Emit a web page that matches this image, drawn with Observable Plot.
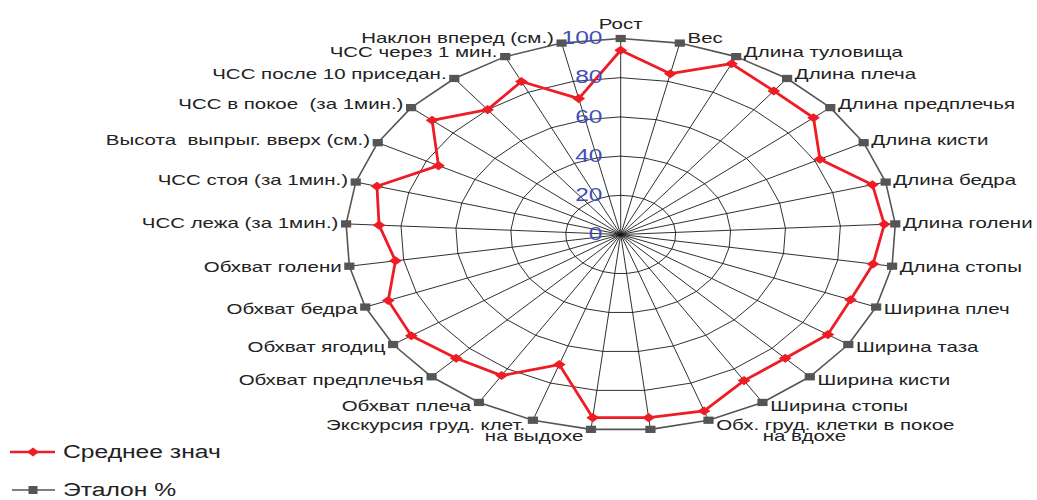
<!DOCTYPE html>
<html><head><meta charset="utf-8">
<script src="https://cdn.jsdelivr.net/npm/d3@7"></script>
<script src="https://cdn.jsdelivr.net/npm/@observablehq/plot@0.6"></script>
<style>
body{margin:0;background:#fff;font-family:"Liberation Sans",Arial,sans-serif;width:1037px;height:500px;overflow:hidden;}
#chart svg path, #chart svg line{vector-effect:non-scaling-stroke;}
#chart svg text{white-space:pre;}
.legend{position:relative;height:55px;}
.row{position:absolute;left:0;height:20px;display:flex;align-items:center;}
.row svg{flex:none;}
.row span{display:inline-block;margin-left:3px;transform:scaleX(1.4);transform-origin:left center;font-size:17.6px;line-height:18px;color:#222;white-space:nowrap;}
</style></head><body>
<div id="chart"></div>
<div class="legend">
  <div class="row" style="top:-3px"><svg width="60" height="20"><line x1="10" x2="55" y1="10" y2="10" stroke="#ee1c25" stroke-width="2.6"/><polygon points="27,10 33,5.5 39,10 33,14.5" fill="#ee1c25"/></svg><span id="lg1"></span></div>
  <div class="row" style="top:35px"><svg width="60" height="20"><line x1="12" x2="55" y1="10" y2="10" stroke="#555" stroke-width="1.5"/><rect x="28.5" y="6" width="9" height="8" fill="#555"/></svg><span id="lg2"></span></div>
</div>
<script>
const categories = ["Рост","Вес","Длина туловища","Длина плеча","Длина предплечья","Длина кисти","Длина бедра","Длина голени","Длина стопы","Ширина плеч","Ширина таза","Ширина кисти","Ширина стопы","Обх. груд. клетки в покое","на вдохе","на выдохе","Экскурсия груд. клет.","Обхват плеча","Обхват предплечья","Обхват ягодиц","Обхват бедра","Обхват голени","ЧСС лежа (за 1мин.)","ЧСС стоя (за 1мин.)","Высота  выпрыг. вверх (см.)","ЧСС в покое  (за 1мин.)","ЧСС после 10 приседан.","ЧСС через 1 мин.","Наклон вперед (см.)"];
const meanValues = [94,84,96,92,92,82,95,96,93,90,91,87,87,95,94,94,70,84,87,92,91,83,88,92,75,90,80,86,71];
const etalonValues = [100,100,100,100,100,100,100,100,100,100,100,100,100,100,100,100,100,100,100,100,100,100,100,100,100,100,100,100,100];
const seriesNames = ["Среднее знач","Эталон %"];
const tickValues = [0,20,40,60,80,100];
const ringLevels = [20,40,60,80];

document.getElementById("lg1").textContent = seriesNames[0];
document.getElementById("lg2").textContent = seriesNames[1];

const W = 1037, H = 445, stretch = 1.403, cx = 620, cy = 234, R = 196;
const W0 = W / stretch;
const n = categories.length;
const ang = i => i * 2 * Math.PI / n;
const px = (i, v) => v * Math.sin(ang(i));
const py = (i, v) => v * Math.cos(ang(i));
const idx = d3.range(n);
const closed = [...idx, 0];

const pts = (vals) => closed.map(i => ({i, x: px(i, vals[i]), y: py(i, vals[i])}));
const ringData = ringLevels.flatMap(r => closed.map(i => ({r, x: px(i, r), y: py(i, r)})));

const anchorOf = i => { const s = Math.sin(ang(i)); return Math.abs(s) < 0.05 ? "middle" : s > 0 ? "start" : "end"; };
const nudge = {"на вдохе": 38};
const labels = idx.map(i => {
  const a = anchorOf(i), s = Math.sin(ang(i)), c = Math.cos(ang(i));
  let x = px(i, 100), y = py(i, 100);
  if (a === "middle") y += 8.2;
  else { x += (s > 0 ? 2.8 : -2.8) + (nudge[categories[i]] || 0); y += 2.6 * c; }
  if (Math.abs(c) > 0.99) y -= 0.8;
  return {text: categories[i], x, y, a};
});

const cxu = cx / stretch;
const xDomain = [-cxu / R * 100, (W0 - cxu) / R * 100];
const yDomain = [-(H - cy) / R * 100, cy / R * 100];

const textStyle = {fill: "#222", fontSize: 14.6};
const chart = Plot.plot({
  width: W0, height: H, margin: 0,
  x: {domain: xDomain, axis: null},
  y: {domain: yDomain, axis: null},
  style: {fontFamily: "'Liberation Sans', Arial, sans-serif", background: "white"},
  marks: [
    Plot.link(idx, {x1: () => 0, y1: () => 0, x2: i => px(i, 100), y2: i => py(i, 100), stroke: "#1a1a1a", strokeWidth: 0.9}),
    Plot.line(ringData, {x: "x", y: "y", z: "r", stroke: "#1a1a1a", strokeWidth: 0.9}),
    Plot.line(pts(etalonValues), {x: "x", y: "y", stroke: "#555", strokeWidth: 1.6}),
    Plot.dot(pts(etalonValues).slice(0, n), {x: "x", y: "y", symbol: "square", r: 4.1, fill: "#555"}),
    Plot.line(pts(meanValues), {x: "x", y: "y", stroke: "#ee1c25", strokeWidth: 2.8}),
    Plot.dot(pts(meanValues).slice(0, n), {x: "x", y: "y", symbol: "diamond2", r: 4.1, fill: "#ee1c25"}),
    Plot.text(tickValues, {x: () => 0, y: d => d, text: d => String(d), textAnchor: "end", dx: -13, fill: "#3f51b5", fontSize: 17.5}),
    ...["start", "middle", "end"].map(a => Plot.text(labels.filter(d => d.a === a), {x: "x", y: "y", text: "text", textAnchor: a, ...textStyle}))
  ]
});
chart.setAttribute("width", W);
chart.setAttribute("height", H);
chart.setAttribute("preserveAspectRatio", "none");
chart.style.width = W + "px";
chart.style.height = H + "px";
chart.style.maxWidth = "none";
chart.style.display = "block";
document.getElementById("chart").appendChild(chart);
</script>
</body></html>
